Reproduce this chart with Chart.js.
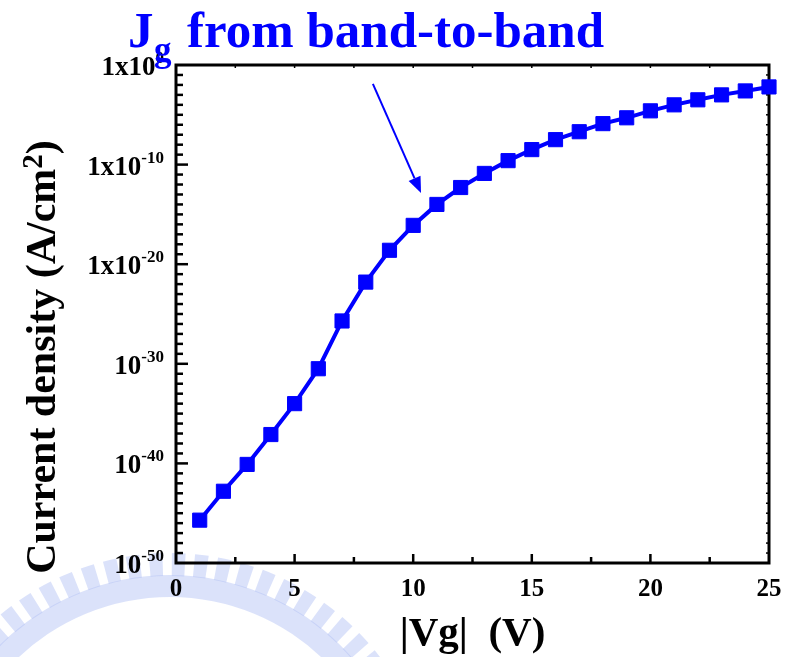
<!DOCTYPE html>
<html>
<head>
<meta charset="utf-8">
<script src="https://cdn.jsdelivr.net/npm/chart.js@4/dist/chart.umd.min.js"></script>
<style>
  html, body { margin: 0; padding: 0; background: #fff; }
  #wrap { width: 800px; height: 657px; }
</style>
</head>
<body>
<div id="wrap"><canvas id="c" width="800" height="657"></canvas></div>
<script>
// Gate current density from band-to-band tunnelling vs. |Vg|
const gateVoltage = [1, 2, 3, 4, 5, 6, 7, 8, 9, 10, 11, 12, 13, 14, 15, 16, 17, 18, 19, 20, 21, 22, 23, 24, 25];
const currentDensity = [
  2.0e-46, 1.6e-43, 7.9e-41, 7.9e-38, 1.0e-34, 3.2e-31, 2.0e-26, 1.6e-22, 2.5e-19, 7.9e-17,
  1.0e-14, 5.0e-13, 1.3e-11, 2.5e-10, 3.2e-9, 3.2e-8, 2.0e-7, 1.3e-6, 5.0e-6, 2.5e-5,
  1.0e-4, 3.2e-4, 1.0e-3, 2.5e-3, 6.3e-3
];
const xTickValues = [0, 5, 10, 15, 20, 25];
const xMinorTickValues = [2.5, 7.5, 12.5, 17.5, 22.5];
const yLabelExponents = [0, -10, -20, -30, -40, -50];
const yLabelMantissas = ['1x10', '1x10', '1x10', '10', '10', '10'];
const arrowStart = { x: 8.3, y: 1.3e-2 };
const arrowEnd = { x: 10.33, y: 1.4e-13 };

const BLUE = '#0000ff';
const SERIF = '"Liberation Serif", "Times New Roman", serif';

// draws runs of text with different sizes / vertical offsets on one line
function richWidth(ctx, parts) {
  let w = 0;
  for (const p of parts) { ctx.font = 'bold ' + p.size + 'px ' + SERIF; w += ctx.measureText(p.text).width; }
  return w;
}
function drawRich(ctx, parts, x, y, align) {
  const w = richWidth(ctx, parts);
  let cx = align === 'right' ? x - w : align === 'center' ? x - w / 2 : x;
  for (const p of parts) {
    ctx.font = 'bold ' + p.size + 'px ' + SERIF;
    ctx.fillText(p.text, cx, y + (p.dy || 0));
    cx += ctx.measureText(p.text).width;
  }
}

const decorations = {
  id: 'decorations',
  beforeDraw(chart) {
    const ctx = chart.ctx;
    ctx.save();
    ctx.fillStyle = '#fff';
    ctx.fillRect(0, 0, chart.width, chart.height);
    // faint seal outline in the lower-left corner
    const cx = 170, cy = 817, rIn = 220, rMid = 242, rOut = 264;
    ctx.fillStyle = 'rgba(175,190,245,0.45)';
    ctx.beginPath();
    ctx.arc(cx, cy, rMid, Math.PI, 2 * Math.PI);
    ctx.arc(cx, cy, rIn, 2 * Math.PI, Math.PI, true);
    ctx.closePath();
    ctx.fill();
    const step = 0.088, half = 0.026;
    for (let a = Math.PI + 0.02; a < 2 * Math.PI; a += step) {
      ctx.beginPath();
      ctx.arc(cx, cy, rOut, a - half, a + half);
      ctx.arc(cx, cy, rMid - 1, a + half, a - half, true);
      ctx.closePath();
      ctx.fill();
    }
    ctx.restore();
  },
  beforeDatasetsDraw(chart) {
    const ctx = chart.ctx;
    const { left, right, top, bottom } = chart.chartArea;
    const xs = chart.scales.x, ys = chart.scales.y;
    ctx.save();
    ctx.strokeStyle = '#000';
    ctx.lineCap = 'butt';
    // y ticks: one per decade, long every ten decades
    for (let e = -49; e <= -1; e++) {
      const py = ys.getPixelForValue(Math.pow(10, e));
      const len = (e % 10 === 0) ? 12 : 7;
      ctx.lineWidth = 2.5;
      ctx.beginPath(); ctx.moveTo(left, py); ctx.lineTo(left + len, py); ctx.stroke();
      ctx.lineWidth = 1.5;
      ctx.beginPath(); ctx.moveTo(right, py); ctx.lineTo(right - 3, py); ctx.stroke();
    }
    // x ticks
    ctx.lineWidth = 2.5;
    for (const v of xTickValues.slice(1, -1)) {
      const px = xs.getPixelForValue(v);
      ctx.beginPath(); ctx.moveTo(px, bottom); ctx.lineTo(px, bottom - 9); ctx.stroke();
    }
    for (const v of xMinorTickValues) {
      const px = xs.getPixelForValue(v);
      ctx.beginPath(); ctx.moveTo(px, bottom); ctx.lineTo(px, bottom - 6); ctx.stroke();
    }
    ctx.lineWidth = 1.5;
    for (const v of xTickValues.concat(xMinorTickValues)) {
      const px = xs.getPixelForValue(v);
      ctx.beginPath(); ctx.moveTo(px, top); ctx.lineTo(px, top + 3); ctx.stroke();
    }
    // frame
    ctx.lineWidth = 3;
    ctx.strokeRect(left, top, right - left, bottom - top);
    ctx.restore();
  },
  afterDraw(chart) {
    const ctx = chart.ctx;
    const { left, right, top, bottom } = chart.chartArea;
    const xs = chart.scales.x, ys = chart.scales.y;
    ctx.save();
    ctx.fillStyle = '#000';
    ctx.textBaseline = 'alphabetic';
    ctx.textAlign = 'left';
    // x tick labels
    for (const v of xTickValues) {
      drawRich(ctx, [{ text: String(v), size: 25 }], xs.getPixelForValue(v), bottom + 33, 'center');
    }
    // y tick labels with superscript exponents
    yLabelExponents.forEach((e, i) => {
      const py = ys.getPixelForValue(Math.pow(10, e));
      drawRich(ctx, [
        { text: yLabelMantissas[i], size: 27 },
        { text: String(e), size: 17, dy: -12 }
      ], 164, py + 10, 'right');
    });
    // axis titles
    drawRich(ctx, [{ text: '|Vg|  (V)', size: 41 }], (left + right) / 2, 645, 'center');
    ctx.save();
    ctx.translate(55, 357);
    ctx.rotate(-Math.PI / 2);
    drawRich(ctx, [
      { text: 'Current density (A/cm', size: 42 },
      { text: '2', size: 29, dy: -13 },
      { text: ')', size: 42 }
    ], 0, 0, 'center');
    ctx.restore();
    // headline
    ctx.fillStyle = BLUE;
    drawRich(ctx, [{ text: 'J', size: 51 }], 128, 47, 'left');
    drawRich(ctx, [{ text: 'g', size: 35 }], 154, 61, 'left');
    drawRich(ctx, [{ text: 'from band-to-band', size: 51 }], 187, 47, 'left');
    // arrow pointing at the knee of the curve
    const x0 = xs.getPixelForValue(arrowStart.x), y0 = ys.getPixelForValue(arrowStart.y);
    const x1 = xs.getPixelForValue(arrowEnd.x), y1 = ys.getPixelForValue(arrowEnd.y);
    const ang = Math.atan2(y1 - y0, x1 - x0);
    const headLen = 16, headHalf = 6.5;
    const bx = x1 - headLen * Math.cos(ang), by = y1 - headLen * Math.sin(ang);
    ctx.strokeStyle = BLUE;
    ctx.lineWidth = 2;
    ctx.beginPath(); ctx.moveTo(x0, y0); ctx.lineTo(bx, by); ctx.stroke();
    ctx.beginPath();
    ctx.moveTo(x1, y1);
    ctx.lineTo(bx + headHalf * Math.sin(ang), by - headHalf * Math.cos(ang));
    ctx.lineTo(bx - headHalf * Math.sin(ang), by + headHalf * Math.cos(ang));
    ctx.closePath();
    ctx.fill();
    ctx.restore();
  }
};

new Chart(document.getElementById('c'), {
  type: 'line',
  data: {
    datasets: [{
      data: gateVoltage.map((v, i) => ({ x: v, y: currentDensity[i] })),
      borderColor: BLUE,
      backgroundColor: BLUE,
      borderWidth: 4,
      pointStyle: 'rect',
      pointRadius: 10,
      pointBorderWidth: 1,
      pointBackgroundColor: BLUE,
      pointBorderColor: BLUE,
      tension: 0,
      clip: false
    }]
  },
  options: {
    responsive: false,
    animation: false,
    events: [],
    layout: { padding: { top: 65, right: 31, left: 0, bottom: 0 } },
    plugins: { legend: { display: false }, tooltip: { enabled: false } },
    scales: {
      x: {
        type: 'linear', min: 0, max: 25,
        grid: { display: false }, border: { display: false },
        ticks: { display: false },
        afterFit(s) { s.height = 94; }
      },
      y: {
        type: 'logarithmic', min: 1e-50, max: 1,
        grid: { display: false }, border: { display: false },
        ticks: { display: false },
        afterBuildTicks(s) { s.ticks = yLabelExponents.map(e => ({ value: Math.pow(10, e) })); },
        afterFit(s) { s.width = 176; }
      }
    }
  },
  plugins: [decorations]
});
</script>
</body>
</html>
